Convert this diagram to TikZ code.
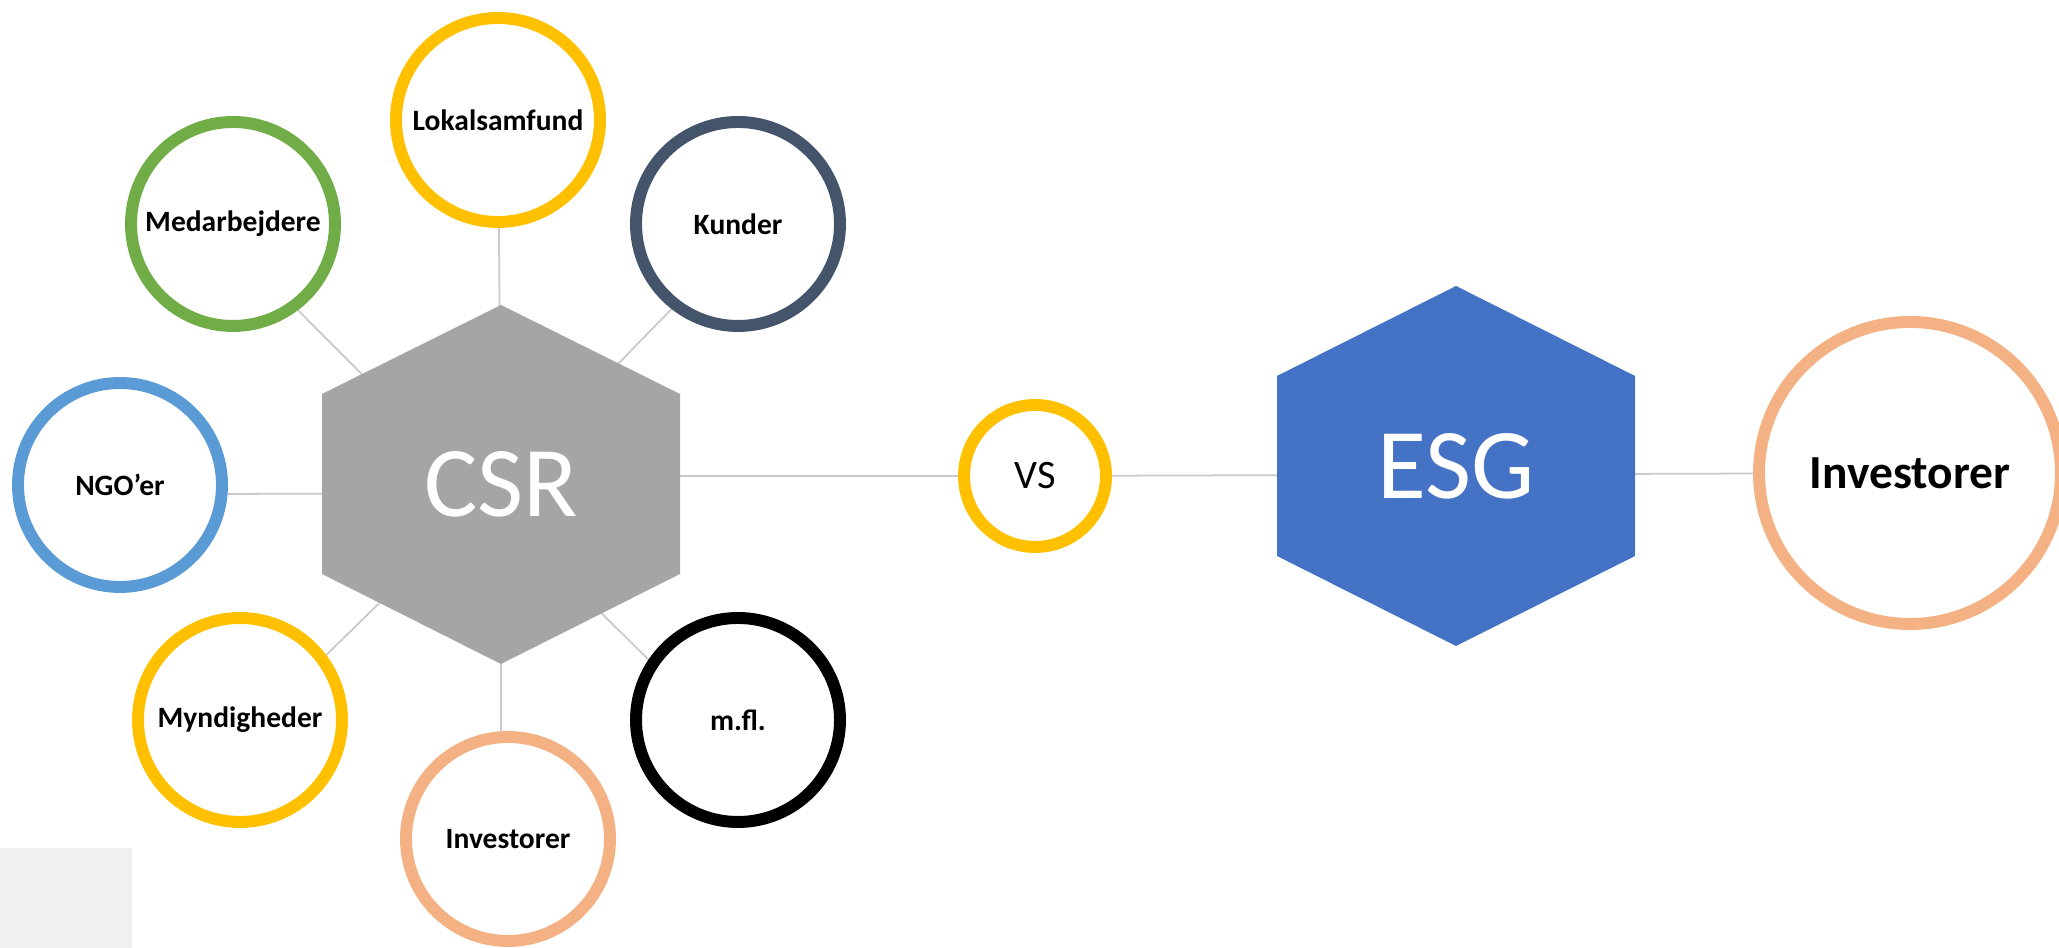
\documentclass[tikz,border=0pt]{standalone}
\usepackage{fontspec}
\setmainfont{Carlito}
\usepackage{xcolor}
\usepackage{tikz}
\usetikzlibrary{backgrounds}

\definecolor{ringgold}{HTML}{FFC000}
\definecolor{ringgreen}{HTML}{70AD47}
\definecolor{ringslate}{HTML}{44546A}
\definecolor{ringblue}{HTML}{5B9BD5}
\definecolor{ringpeach}{HTML}{F4B183}
\definecolor{csrgray}{HTML}{A5A5A5}
\definecolor{esgblue}{HTML}{4472C4}
\definecolor{linkgray}{HTML}{C9C9C9}
\definecolor{cornergray}{HTML}{F0F0F0}

\begin{document}
\begin{tikzpicture}[
    ring/.style={circle,draw,line width=3.4pt,fill=white,minimum size=2.04cm,inner sep=0pt,
        font=\fontsize{8.4}{10}\selectfont\bfseries},
    link/.style={draw=linkgray,line width=0.5pt},
    hexlabel/.style={text=white,inner sep=0pt,font=\fontsize{28.5}{30}\selectfont}
]
    % Canvas
    \useasboundingbox (0,0) rectangle (20.59,9.48);
    \fill[cornergray] (0,0) rectangle (1.32,1.00);

    % Hexagon centres
    \coordinate (csr) at (5.01,4.64);
    \coordinate (esg) at (14.56,4.82);

    % Hexagons
    \fill[csrgray] (csr) ++(0,1.79) -- ++(1.79,-0.89) -- ++(0,-1.80) -- ++(-1.79,-0.90) -- ++(-1.79,0.90) -- ++(0,1.80) -- cycle;
    \fill[esgblue] (esg) ++(0,1.80) -- ++(1.79,-0.90) -- ++(0,-1.80) -- ++(-1.79,-0.90) -- ++(-1.79,0.90) -- ++(0,1.80) -- cycle;
    \node[hexlabel] (csrtext) at (csr) {CSR};
    \node[hexlabel] (esgtext) at (esg) {ESG};

    % Stakeholder circles
    \node[ring,draw=ringgold] (lok) at (4.98,8.28) {Lokalsamfund};
    \node[ring,draw=ringgreen] (med) at (2.33,7.24) {Medarbejdere};
    \node[ring,draw=ringslate] (kun) at (7.38,7.24) {Kunder};
    \node[ring,draw=ringblue] (ngo) at (1.20,4.63) {NGO’er};
    \node[ring,draw=ringgold] (myn) at (2.40,2.28) {Myndigheder};
    \node[ring,draw=ringpeach] (inv) at (5.08,1.09) {Investorer};
    \node[ring,draw=black] (mfl) at (7.38,2.28) {m.fl.};

    % VS and right side
    \node[ring,draw=ringgold,minimum size=1.42cm,font=\fontsize{11.5}{13}\selectfont] (vs) at (10.35,4.72) {VS};
    \node[ring,draw=ringpeach,minimum size=3.02cm,font=\fontsize{13.5}{16}\selectfont\bfseries] (inv2) at (19.10,4.75) {Investorer};

    % Connectors
    \begin{scope}[on background layer]
        \draw[link] (lok) -- (csr);
        \draw[link] (med.-53) -- ([yshift=-0.3cm]csr);
        \draw[link] (kun.-128) -- (csr);
        \draw[link] ([yshift=-0.09cm]ngo.east) -- ([yshift=-0.09cm]csr);
        \draw[link] (myn.37) -- (csr);
        \draw[link] (csr) -- (csr |- inv.north);
        \draw[link] (mfl.146) -- ([yshift=-0.3cm]csr);
        \draw[link] (csr |- vs) -- (vs) -- (inv2);
    \end{scope}
\end{tikzpicture}
\end{document}
